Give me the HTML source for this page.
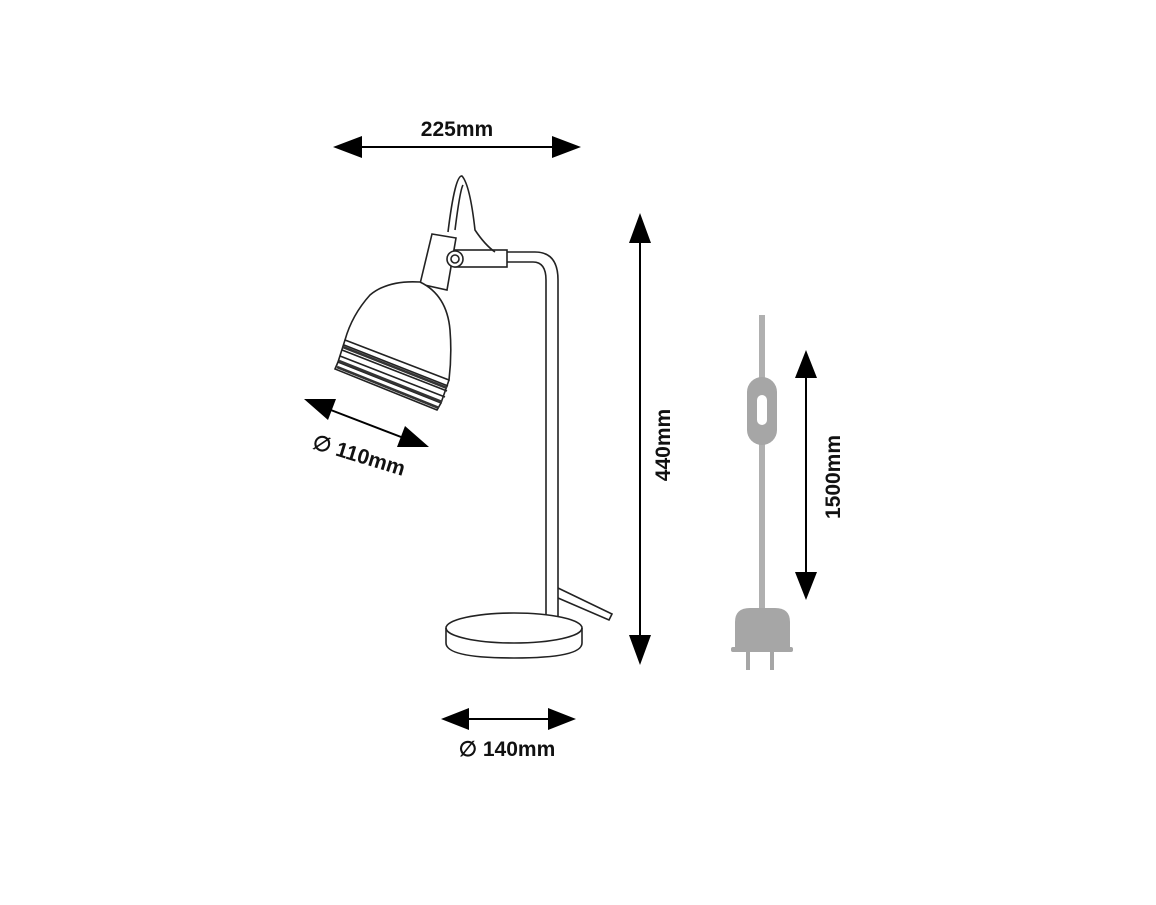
<!DOCTYPE html>
<html><head><style>
body{margin:0;background:#fff;}
text{font-family:"Liberation Sans",sans-serif;font-weight:bold;font-size:21px;fill:#111;}
</style></head><body>
<svg width="1156" height="900" viewBox="0 0 1156 900" xmlns="http://www.w3.org/2000/svg">
<g stroke="#000" stroke-width="2" fill="none">
<line x1="340" y1="147" x2="574" y2="147"/>
<path d="M333,147L362,136L362,158z M581,147L552,136L552,158z" fill="#000" stroke="none"/>
<line x1="640" y1="220" x2="640" y2="658"/>
<path d="M640,213L629,243L651,243z M640,665L629,635L651,635z" fill="#000" stroke="none"/>
<line x1="806" y1="355" x2="806" y2="595"/>
<path d="M806,350L795,378L817,378z M806,600L795,572L817,572z" fill="#000" stroke="none"/>
<line x1="447" y1="719" x2="570" y2="719"/>
<path d="M441,719L469,708L469,730z M576,719L548,708L548,730z" fill="#000" stroke="none"/>
<line x1="310" y1="402" x2="422" y2="445"/>
<path d="M304,399L336,399L328,420z M429,447L397,447L405,426z" fill="#000" stroke="none"/>
</g>
<text x="457" y="136" text-anchor="middle">225mm</text>
<text x="507" y="756" text-anchor="middle">∅ 140mm</text>
<text transform="translate(670,445) rotate(-90)" text-anchor="middle">440mm</text>
<text transform="translate(840,477) rotate(-90)" text-anchor="middle">1500mm</text>
<text transform="translate(357,462) rotate(17)" text-anchor="middle">∅ 110mm</text>

<g fill="#a6a6a6" stroke="none">
<rect x="759" y="315" width="6" height="295" fill="#b0b0b0"/>
<rect x="747" y="377" width="30" height="68" rx="15"/>
<path d="M735,648L735,622Q735,608 750,608L775,608Q790,608 790,622L790,648z"/>
<rect x="731" y="647" width="62" height="5" rx="2"/>
<rect x="746" y="652" width="4" height="18"/>
<rect x="770" y="652" width="4" height="18"/>
</g>
<rect x="757" y="395" width="10" height="30" rx="5" fill="#fff"/>

<g stroke="#222" stroke-width="1.6" fill="none">
<path d="M507,252L535,252Q558,252 558,280L558,622"/>
<path d="M507,262L533,262Q546,262 546,280L546,622"/>
<path d="M558,588L612,614L609,620L558,598"/>
<ellipse cx="514" cy="628" rx="68" ry="15" fill="#fff"/>
<path d="M446,628L446,643Q446,658 514,658Q582,658 582,643L582,628"/>
<rect x="455" y="250" width="52" height="17" fill="#fff"/>
<path d="M448,232Q455,175 462,176Q470,185 475,230Q485,245 495,252"/>
<path d="M455,230Q460,190 463,185"/>
<path d="M432,234L456,238L447,290L420,284z" fill="#fff"/>
<circle cx="455" cy="259" r="8" fill="#fff"/>
<circle cx="455" cy="259" r="4"/>
<path d="M420,282Q388,280 370,295Q352,315 345,340L449,380Q452,355 450,330Q447,295 420,282z" fill="#fff"/>
<path d="M345,340L338,362L441,403L449,380"/>
<path d="M344,345L448,386"/>
<path d="M342,350L447,391"/>
<path d="M340,356L445,397"/>
<path d="M338,362L335,369L437,410L441,403"/>
</g>
<g stroke="#333" stroke-width="2.6" fill="none">
<path d="M343,347L447,388"/>
<path d="M339,361L442,402"/>
<path d="M337,367L439,408"/>
</g>
</svg>
</body></html>
